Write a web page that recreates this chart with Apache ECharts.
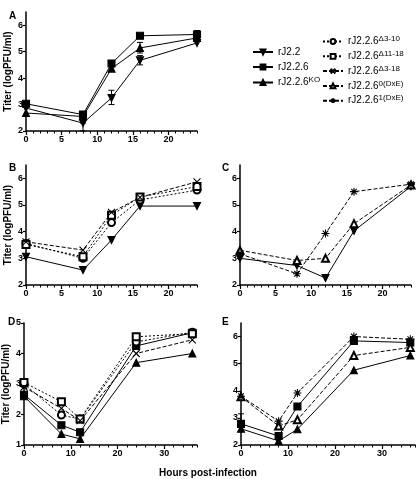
<!DOCTYPE html>
<html><head><meta charset="utf-8">
<script src="https://cdn.jsdelivr.net/npm/echarts@6/dist/echarts.min.js"></script>
<style>html,body{margin:0;padding:0;background:#fff}#c{width:416px;height:479px}</style>
</head><body><div id="c"></div>
<script>
// ---------- data ----------
const hoursABC = [0, 8, 12, 16, 24];
const hoursDE = [0, 8, 12, 24, 36];
const yTicksHigh = [2, 3, 4, 5, 6];
const yTicksD = [1, 2, 3, 4, 5];
const xTicksABC = [0, 5, 10, 15, 20];
const xTicksDE = [0, 10, 20, 30];
const panelLabels = ['A', 'B', 'C', 'D', 'E'];

// Panel A
const A_rJ22   = [2.87, 2.30, 3.25, 4.67, 5.33];
const A_rJ226  = [3.03, 2.62, 4.55, 5.60, 5.65];
const A_KO     = [2.68, 2.55, 4.36, 5.14, 5.52];
const A_errX   = [8, 12, 16, 16, 24];
const A_errLo  = [2.00, 3.00, 4.50, 4.95, 5.50];
const A_errHi  = [2.30, 3.54, 4.85, 5.35, 5.80];
// Panel B
const B_rJ22   = [3.06, 2.56, 3.69, 4.96, 4.96];
const B_d3_10  = [3.56, 3.00, 4.34, 5.19, 5.56];
const B_d11_18 = [3.52, 3.06, 4.62, 5.30, 5.69];
const B_d3_18  = [3.62, 3.31, 4.72, 5.29, 5.87];
// Panel C
const C_rJ22   = [3.00, 2.73, 2.26, 4.03, 5.70];
const C_dxe0   = [3.30, 2.92, 3.00, 4.30, 5.75];
const C_dxe1   = [3.17, 2.42, 3.93, 5.50, 5.78];
// Panel D
const D_rJ226  = [2.65, 1.65, 1.42, 4.25, 4.68];
const D_KO     = [2.60, 1.36, 1.20, 3.70, 4.00];
const D_d3_10  = [3.00, 1.98, 1.85, 4.38, 4.70];
const D_d11_18 = [3.05, 2.42, 1.85, 4.55, 4.65];
const D_d3_18  = [2.90, 2.20, 1.80, 4.00, 4.45];
// Panel E
const E_rJ226  = [2.78, 2.33, 3.42, 5.84, 5.78];
const E_KO     = [2.60, 2.15, 2.58, 4.76, 5.30];
const E_dxe0   = [3.78, 2.70, 2.93, 5.30, 5.60];
const E_dxe1   = [3.80, 2.88, 3.92, 6.00, 5.90];
const E_errX   = [0];
const E_errLo  = [2.78];
const E_errHi  = [3.15];

// ---------- styles ----------
const FONT = 'Liberation Sans, Arial, sans-serif';
const XPATH = 'path://M0,0L10,10M10,0L0,10';
const STAR = 'path://M5,0L5,10M0,5L10,5M1.5,1.5L8.5,8.5M8.5,1.5L1.5,8.5';
const styles = {
  'rJ2.2':          {symbol: 'triangle', rotate: 180, dash: 'solid', size: 7},
  'rJ2.2.6':        {symbol: 'rect', dash: 'solid', size: 7},
  'rJ2.2.6KO':      {symbol: 'triangle', dash: 'solid', size: 7},
  'rJ2.2.6Δ3-10':   {symbol: 'emptyCircle', dash: [2, 2], size: 7},
  'rJ2.2.6Δ11-18':  {symbol: 'emptyRect', dash: [2, 2], size: 7},
  'rJ2.2.6Δ3-18':   {symbol: XPATH, dash: [4, 2], size: 7},
  'rJ2.2.60(DxE)':  {symbol: 'emptyTriangle', dash: [4, 2], size: 7},
  'rJ2.2.61(DxE)':  {symbol: STAR, dash: [4, 2], size: 8}
};

const panels = [
  {left: 26,  top: 12,  width: 171, height: 119, xmax: 24, ymin: 2, ymax: 6.5, xs: hoursABC, xt: xTicksABC, xi: 5, minor: 1, yt: yTicksHigh, title: true},
  {left: 26,  top: 165, width: 171, height: 120, xmax: 24, ymin: 2, ymax: 6.5, xs: hoursABC, xt: xTicksABC, xi: 5, minor: 1, yt: yTicksHigh, title: true},
  {left: 240, top: 165, width: 171, height: 120, xmax: 24, ymin: 2, ymax: 6.5, xs: hoursABC, xt: xTicksABC, xi: 5, minor: 1, yt: yTicksHigh, title: false},
  {left: 23,  top: 323, width: 174, height: 122, xmax: 37, ymin: 1, ymax: 5,   xs: hoursDE,  xt: xTicksDE,  xi: 10, minor: 2, yt: yTicksD, title: true},
  {left: 241, top: 323, width: 174, height: 122, xmax: 37, ymin: 2, ymax: 6.5, xs: hoursDE,  xt: xTicksDE,  xi: 10, minor: 2, yt: yTicksHigh, title: false}
];

const panelSeries = [
  [['rJ2.2', A_rJ22], ['rJ2.2.6', A_rJ226], ['rJ2.2.6KO', A_KO]],
  [['rJ2.2', B_rJ22], ['rJ2.2.6Δ3-10', B_d3_10], ['rJ2.2.6Δ11-18', B_d11_18], ['rJ2.2.6Δ3-18', B_d3_18]],
  [['rJ2.2', C_rJ22], ['rJ2.2.60(DxE)', C_dxe0], ['rJ2.2.61(DxE)', C_dxe1]],
  [['rJ2.2.6', D_rJ226], ['rJ2.2.6KO', D_KO], ['rJ2.2.6Δ3-10', D_d3_10], ['rJ2.2.6Δ11-18', D_d11_18], ['rJ2.2.6Δ3-18', D_d3_18]],
  [['rJ2.2.6', E_rJ226], ['rJ2.2.6KO', E_KO], ['rJ2.2.60(DxE)', E_dxe0], ['rJ2.2.61(DxE)', E_dxe1]]
];
const panelErrors = [
  [A_errX, A_errLo, A_errHi], null, null, null, [E_errX, E_errLo, E_errHi]
];

const grid = [], xAxis = [], yAxis = [], series = [], title = [];
const lblStyle = {fontSize: 9, fontWeight: 'bold', color: '#000', fontFamily: FONT};
panels.forEach((p, i) => {
  grid.push({left: p.left, top: p.top, width: p.width, height: p.height, containLabel: false});
  xAxis.push({
    type: 'value', gridIndex: i, position: 'bottom', min: 0, max: p.xmax, interval: p.xi,
    axisLine: {onZero: false, lineStyle: {color: '#000', width: 1.5}},
    axisTick: {length: 4, lineStyle: {color: '#000', width: 1.2}, customValues: p.xt},
    axisLabel: Object.assign({margin: 4, customValues: p.xt}, lblStyle),
    splitLine: {show: false}
  });
  xAxis.push({
    type: 'value', gridIndex: i, position: 'bottom', min: 0, max: p.xmax, interval: p.minor,
    axisLine: {show: false, onZero: false},
    axisTick: {length: 2.5, lineStyle: {color: '#000', width: 1}},
    axisLabel: {show: false}, splitLine: {show: false}
  });
  yAxis.push({
    type: 'value', gridIndex: i, min: p.ymin, max: p.ymax, interval: 1,
    axisLine: {show: true, onZero: false, lineStyle: {color: '#000', width: 1.5}},
    axisTick: {show: true, length: 3, lineStyle: {color: '#000', width: 1.2}, customValues: p.yt},
    axisLabel: Object.assign({margin: 3, customValues: p.yt}, lblStyle),
    splitLine: {show: false},
    name: p.title ? 'Titer (logPFU/ml)' : '',
    nameLocation: 'middle', nameGap: 13, nameRotate: 90,
    nameTextStyle: {fontSize: 10, fontWeight: 'bold', color: '#000', fontFamily: FONT}
  });
  panelSeries[i].forEach(([name, ys]) => {
    const st = styles[name];
    series.push({
      type: 'line', name, xAxisIndex: i * 2, yAxisIndex: i,
      data: p.xs.map((x, k) => [x, ys[k]]),
      symbol: st.symbol, symbolSize: st.size, symbolRotate: st.rotate || 0,
      lineStyle: {color: '#000', width: 1, type: st.dash},
      itemStyle: {color: '#000', borderColor: '#000', borderWidth: 1.1},
      emphasis: {disabled: true}, animation: false
    });
  });
  const err = panelErrors[i];
  if (err) {
    series.push({
      type: 'custom', xAxisIndex: i * 2, yAxisIndex: i, animation: false, z: 1,
      data: err[0].map((x, k) => [x, err[1][k], err[2][k]]),
      renderItem(params, api) {
        const a = api.coord([api.value(0), api.value(1)]);
        const b = api.coord([api.value(0), api.value(2)]);
        const st = {stroke: '#000', lineWidth: 1};
        return {type: 'group', children: [
          {type: 'line', shape: {x1: a[0], y1: a[1], x2: b[0], y2: b[1]}, style: st},
          {type: 'line', shape: {x1: a[0] - 3, y1: a[1], x2: a[0] + 3, y2: a[1]}, style: st},
          {type: 'line', shape: {x1: b[0] - 3, y1: b[1], x2: b[0] + 3, y2: b[1]}, style: st}
        ]};
      }
    });
  }
});

const letterPos = [[4, 6], [4, 158], [217, 158], [3, 312], [217, 312]];
panelLabels.forEach((t, i) => title.push({
  text: t, left: letterPos[i][0], top: letterPos[i][1],
  textStyle: {fontSize: 10, fontWeight: 'bold', color: '#000', fontFamily: FONT}
}));
title.push({text: 'Hours post-infection', left: 'center', top: 463,
  textStyle: {fontSize: 10, fontWeight: 'bold', color: '#000', fontFamily: FONT}});

const fmt = name => name.startsWith('rJ2.2.6') && name.length > 7 ? 'rJ2.2.6{s|' + name.slice(7) + '}' : name;
const legendText = {fontSize: 10, color: '#000', fontFamily: FONT, lineHeight: 12,
  rich: {s: {fontSize: 8, color: '#000', fontFamily: FONT, padding: [0, 0, 5, 0]}}};

const option = {
  backgroundColor: '#fff', animation: false,
  title, grid, xAxis, yAxis, series,
  legend: [
    {data: ['rJ2.2', 'rJ2.2.6', 'rJ2.2.6KO'], orient: 'vertical', left: 252, top: 46,
     itemWidth: 20, itemHeight: 6, itemGap: 3, textStyle: legendText, formatter: fmt, selectedMode: false,
     padding: 0},
    {data: ['rJ2.2.6Δ3-10', 'rJ2.2.6Δ11-18', 'rJ2.2.6Δ3-18', 'rJ2.2.60(DxE)', 'rJ2.2.61(DxE)'],
     orient: 'vertical', left: 322, top: 35,
     itemWidth: 20, itemHeight: 6, itemGap: 2.3, textStyle: legendText, formatter: fmt, selectedMode: false,
     padding: 0}
  ]
};
const chart = echarts.init(document.getElementById('c'), null, {renderer: 'canvas'});
chart.setOption(option);
</script></body></html>
